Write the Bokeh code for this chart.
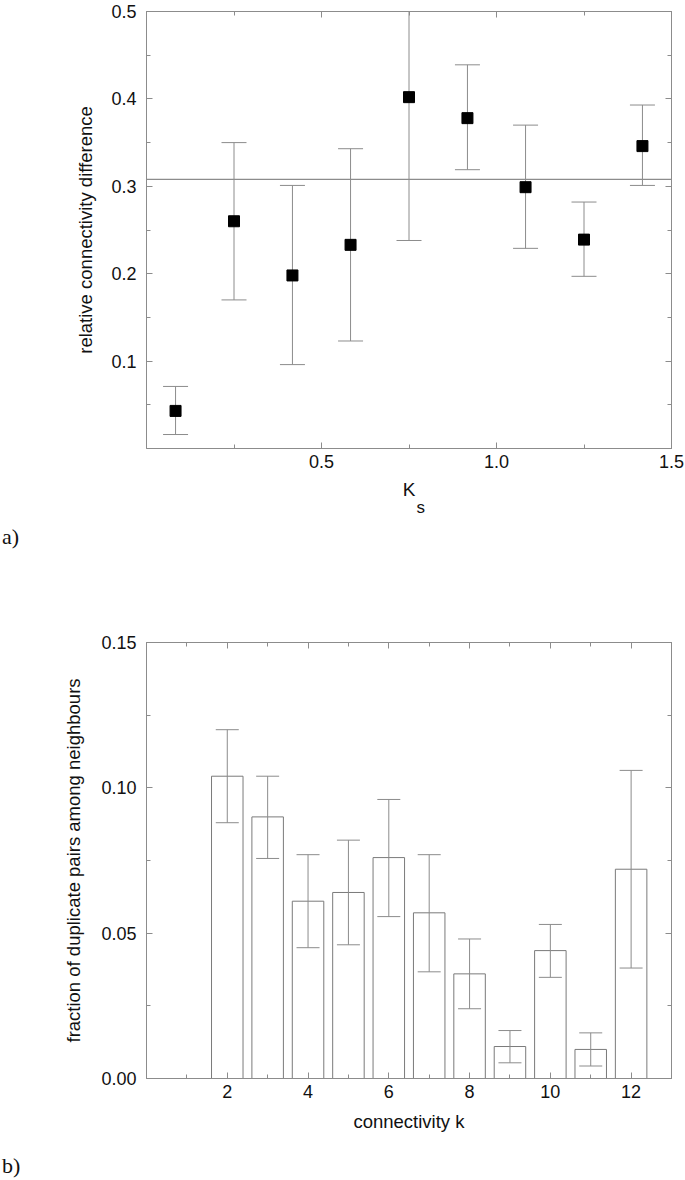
from bokeh.plotting import figure
from bokeh.layouts import column
from bokeh.models import (Range1d, FixedTicker, LinearAxis, Span, Title, Div,
                          PrintfTickFormatter, ColumnDataSource)
from bokeh.embed import file_html
from bokeh.resources import INLINE

# ---------------- data: panel a ----------------
ks_centers = [0.083, 0.25, 0.417, 0.583, 0.75, 0.917, 1.083, 1.25, 1.417]
rel_diff = [0.043, 0.260, 0.198, 0.233, 0.402, 0.378, 0.299, 0.239, 0.346]
rel_upper = [0.071, 0.350, 0.301, 0.343, 0.566, 0.439, 0.370, 0.282, 0.393]
rel_lower = [0.016, 0.170, 0.096, 0.123, 0.238, 0.319, 0.229, 0.197, 0.301]
mean_level = 0.308
a_xticks = [0.5, 1.0, 1.5]
a_xminor = [0.25, 0.5, 0.75, 1.0, 1.25, 1.5]
a_yticks = [0.1, 0.2, 0.3, 0.4, 0.5]
a_yminor = [0.05, 0.1, 0.15, 0.2, 0.25, 0.3, 0.35, 0.4, 0.45, 0.5]

# ---------------- data: panel b ----------------
conn_k = [2, 3, 4, 5, 6, 7, 8, 9, 10, 11, 12]
dup_frac = [0.104, 0.090, 0.061, 0.064, 0.076, 0.057, 0.036, 0.011, 0.044, 0.010, 0.072]
dup_upper = [0.120, 0.104, 0.077, 0.082, 0.096, 0.077, 0.048, 0.0165, 0.053, 0.0157, 0.106]
dup_lower = [0.088, 0.0757, 0.045, 0.046, 0.0557, 0.0367, 0.024, 0.0054, 0.0348, 0.0043, 0.038]
b_xticks = [2, 4, 6, 8, 10, 12]
b_xminor = [1, 2, 3, 4, 5, 6, 7, 8, 9, 10, 11, 12, 13]
b_yticks = [0.0, 0.05, 0.10, 0.15]
b_yminor = [0.025, 0.05, 0.075, 0.10, 0.125, 0.15]

FRAME = "#8c8c8c"
ERR = "#8c8c8c"
SANS = "Liberation Sans"
SERIF = "Liberation Serif"
TXT = "#111111"


def style_axis(ax, label_size="18px", standoff=10):
    ax.axis_line_color = FRAME
    ax.major_tick_line_color = FRAME
    ax.minor_tick_line_color = FRAME
    ax.major_tick_in = 6
    ax.major_tick_out = 0
    ax.minor_tick_in = 4
    ax.minor_tick_out = 0
    ax.major_label_text_font = SANS
    ax.major_label_text_font_size = label_size
    ax.major_label_text_color = TXT
    ax.major_label_standoff = standoff
    ax.axis_label_text_font = SANS
    ax.axis_label_text_font_size = "18.5px"
    ax.axis_label_text_font_style = "normal"
    ax.axis_label_text_color = TXT


def mirror_axes(p, xt, yt):
    top = LinearAxis(ticker=xt)
    right = LinearAxis(ticker=yt)
    for ax in (top, right):
        style_axis(ax, label_size="0px", standoff=0)
        ax.major_label_text_alpha = 0
    p.add_layout(top, "above")
    p.add_layout(right, "right")


# ---------------- panel a ----------------
p1 = figure(width=685, height=524, x_range=Range1d(0, 1.5), y_range=Range1d(0, 0.5),
            output_backend="svg", toolbar_location=None, margin=0,
            min_border_left=144, min_border_right=14, min_border_top=11, min_border_bottom=76)
p1.grid.visible = False
p1.outline_line_color = FRAME
xt1 = FixedTicker(ticks=a_xticks, minor_ticks=a_xminor)
yt1 = FixedTicker(ticks=a_yticks, minor_ticks=a_yminor)
p1.xaxis.ticker = xt1
p1.yaxis.ticker = yt1
p1.xaxis.formatter = PrintfTickFormatter(format="%.1f")
p1.yaxis.formatter = PrintfTickFormatter(format="%.1f")
style_axis(p1.xaxis[0], standoff=6)
style_axis(p1.yaxis[0])
p1.xaxis.axis_label = "K"
p1.xaxis.axis_label_text_font_size = "19px"
p1.xaxis.axis_label_standoff = 8
p1.yaxis.axis_label = "relative connectivity difference"
p1.yaxis.axis_label_standoff = 12
mirror_axes(p1, xt1, yt1)
p1.add_layout(Title(text="s", align="left", offset=270, vertical_align="top", standoff=-10,
                    text_font=SANS, text_font_size="17px", text_font_style="normal",
                    text_color=TXT), "below")

src1 = ColumnDataSource(dict(x=ks_centers, y=rel_diff, up=rel_upper, lo=rel_lower))
p1.add_layout(Span(location=mean_level, dimension="width", line_color=ERR, line_width=1.3))
p1.segment(x0="x", y0="lo", x1="x", y1="up", source=src1, line_color=ERR, line_width=1)
p1.scatter(x="x", y="up", source=src1, marker="dash", size=25, line_color=ERR, line_width=1)
p1.scatter(x="x", y="lo", source=src1, marker="dash", size=25, line_color=ERR, line_width=1)
p1.scatter(x="x", y="y", source=src1, marker="square", size=11, fill_color="black",
           line_color="black")

div_a = Div(text='<div style="font-family:\'Liberation Serif\';font-size:22px;line-height:22px;'
                 'margin-top:2px;margin-left:2px;color:#111111">a)</div>',
            width=100, height=30, margin=0)

# ---------------- panel b ----------------
p2 = figure(width=685, height=580, x_range=Range1d(0, 13), y_range=Range1d(0, 0.15),
            output_backend="svg", toolbar_location=None, margin=0,
            min_border_left=146, min_border_right=13, min_border_top=88, min_border_bottom=56)
p2.grid.visible = False
p2.outline_line_color = FRAME
xt2 = FixedTicker(ticks=b_xticks, minor_ticks=b_xminor)
yt2 = FixedTicker(ticks=b_yticks, minor_ticks=b_yminor)
p2.xaxis.ticker = xt2
p2.yaxis.ticker = yt2
p2.xaxis.formatter = PrintfTickFormatter(format="%d")
p2.yaxis.formatter = PrintfTickFormatter(format="%.2f")
style_axis(p2.xaxis[0], standoff=6)
style_axis(p2.yaxis[0])
p2.xaxis.axis_label = "connectivity k"
p2.xaxis.axis_label_standoff = 10
p2.yaxis.axis_label = "fraction of duplicate pairs among neighbours"
p2.yaxis.axis_label_standoff = 14
mirror_axes(p2, xt2, yt2)

src2 = ColumnDataSource(dict(x=conn_k, y=dup_frac, up=dup_upper, lo=dup_lower))
p2.vbar(x="x", top="y", bottom=0, width=0.78, source=src2, fill_color="white",
        line_color="#7a7a7a", line_width=1)
p2.segment(x0="x", y0="lo", x1="x", y1="up", source=src2, line_color=ERR, line_width=1)
p2.scatter(x="x", y="up", source=src2, marker="dash", size=23, line_color=ERR, line_width=1)
p2.scatter(x="x", y="lo", source=src2, marker="dash", size=23, line_color=ERR, line_width=1)

div_b = Div(text='<div style="font-family:\'Liberation Serif\';font-size:22px;line-height:22px;'
                 'margin-top:21px;margin-left:2px;color:#111111">b)</div>',
            width=100, height=44, margin=0)

layout = column(p1, div_a, p2, div_b, spacing=0, margin=0)
open("out.html", "w").write(file_html(layout, INLINE))
